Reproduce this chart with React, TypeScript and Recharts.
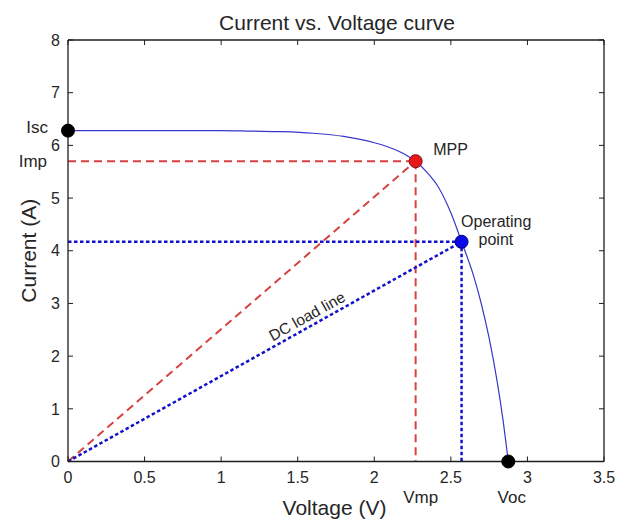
// I-V curve of a solar cell with MPP and operating point

import { ComposedChart, Line, XAxis, YAxis, ReferenceLine, ReferenceDot } from 'recharts';

const voltage = [0, 0.5, 1.0, 1.2, 1.4, 1.6, 1.8, 2.0, 2.1, 2.2, 2.27, 2.35, 2.42, 2.5, 2.57, 2.65, 2.7, 2.75, 2.8, 2.84, 2.875];
const current = [6.28, 6.28, 6.28, 6.27, 6.26, 6.23, 6.17, 6.05, 5.96, 5.83, 5.70, 5.47, 5.20, 4.72, 4.17, 3.51, 2.98, 2.34, 1.56, 0.80, 0];

const xTicks = [0, 0.5, 1, 1.5, 2, 2.5, 3, 3.5];
const yTicks = [0, 1, 2, 3, 4, 5, 6, 7, 8];

// key points
const isc = 6.28;
const voc = 2.875;
const vmp = 2.27;
const imp = 5.70;
const vop = 2.57;
const iop = 4.17;

const FONT = '"Liberation Sans", Arial, Helvetica, sans-serif';
const AXIS = '#1e1e1e';
const TEXT = '#262626';
const RED = '#d6423f';
const BLUE = '#1212cc';

const curveData = voltage.map((v, idx) => ({ v, i: current[idx] }));

const BottomTick = ({ x, y, payload }: any) => (
  <g>
    <line x1={x} y1={y} x2={x} y2={y - 5} stroke={AXIS} />
    <text x={x} y={y + 21.5} textAnchor="middle" fontSize={16} fill={TEXT} fontFamily={FONT}>
      {String(payload.value)}
    </text>
  </g>
);

const TopTick = ({ x, y }: any) => <line x1={x} y1={y} x2={x} y2={y + 5} stroke={AXIS} />;

const LeftTick = ({ x, y, payload }: any) => (
  <g>
    <line x1={x} y1={y} x2={x + 5} y2={y} stroke={AXIS} />
    <text x={x - 8} y={y + 5.7} textAnchor="end" fontSize={16} fill={TEXT} fontFamily={FONT}>
      {String(payload.value)}
    </text>
  </g>
);

const RightTick = ({ x, y }: any) => <line x1={x} y1={y} x2={x - 5} y2={y} stroke={AXIS} />;

// label drawn relative to the centre of a reference dot
const textAt = (text: string, dx: number, dy: number, anchor: string, size = 16) => (props: any) => {
  const vb = props.viewBox;
  const cx = vb.x + vb.width / 2;
  const cy = vb.y + vb.height / 2;
  return (
    <text x={cx + dx} y={cy + dy} textAnchor={anchor} fontSize={size} fill={TEXT} fontFamily={FONT}>
      {text}
    </text>
  );
};

const operatingLabel = (props: any) => {
  const vb = props.viewBox;
  const cx = vb.x + vb.width / 2;
  const cy = vb.y + vb.height / 2;
  return (
    <g fontSize={16} fill={TEXT} fontFamily={FONT}>
      <text x={cx - 0.5} y={cy - 14.5}>Operating</text>
      <text x={cx + 17} y={cy + 3.5}>point</text>
    </g>
  );
};

const loadLineLabel = (props: any) => {
  const vb = props.viewBox;
  const t = 0.62;
  const px = vb.x + vb.width * t;
  const py = vb.y + vb.height * (1 - t);
  const angle = (-Math.atan2(vb.height, vb.width) * 180) / Math.PI;
  return (
    <text
      transform={`translate(${px},${py}) rotate(${angle})`}
      x={0}
      y={-5}
      textAnchor="middle"
      fontSize={15.5}
      fill={TEXT}
      fontFamily={FONT}
    >
      DC load line
    </text>
  );
};

const xLabel = (props: any) => {
  const vb = props.viewBox;
  return (
    <text x={vb.x + vb.width / 2 - 1.5} y={515} textAnchor="middle" fontSize={21} fill={TEXT} fontFamily={FONT}>
      Voltage (V)
    </text>
  );
};

const yLabel = (props: any) => {
  const vb = props.viewBox;
  const cy = vb.y + vb.height / 2;
  return (
    <text
      transform={`translate(36,${cy}) rotate(-90)`}
      textAnchor="middle"
      fontSize={21}
      fill={TEXT}
      fontFamily={FONT}
    >
      Current (A)
    </text>
  );
};

export default function App() {
  return (
    <div style={{ position: 'absolute', left: 0, top: 0, width: 618, height: 520, background: '#fff' }}>
      <div
        style={{
          position: 'absolute',
          left: 187,
          top: 12,
          width: 300,
          textAlign: 'center',
          fontFamily: FONT,
          fontSize: 21,
          lineHeight: '21px',
          color: TEXT,
        }}
      >
        Current vs. Voltage curve
      </div>
      <ComposedChart width={618} height={520} margin={{ top: 39, right: 13, bottom: 57.5, left: 67 }}>
        <XAxis
          dataKey="v"
          type="number"
          domain={[0, 3.5]}
          ticks={xTicks}
          interval={0}
          height={1}
          tickSize={0}
          tickMargin={0}
          tickLine={false}
          tick={BottomTick}
          axisLine={{ stroke: AXIS, strokeWidth: 1.3 }}
          label={xLabel}
          allowDataOverflow
        />
        <XAxis
          xAxisId="top"
          orientation="top"
          dataKey="v"
          type="number"
          domain={[0, 3.5]}
          ticks={xTicks}
          interval={0}
          height={1}
          tickSize={0}
          tickMargin={0}
          tickLine={false}
          tick={TopTick}
          axisLine={{ stroke: AXIS, strokeWidth: 1.3 }}
          allowDataOverflow
        />
        <YAxis
          type="number"
          domain={[0, 8]}
          ticks={yTicks}
          interval={0}
          width={1}
          tickSize={0}
          tickMargin={0}
          tickLine={false}
          tick={LeftTick}
          axisLine={{ stroke: AXIS, strokeWidth: 1.3 }}
          label={yLabel}
          allowDataOverflow
        />
        <YAxis
          yAxisId="right"
          orientation="right"
          type="number"
          domain={[0, 8]}
          ticks={yTicks}
          interval={0}
          width={1}
          tickSize={0}
          tickMargin={0}
          tickLine={false}
          tick={RightTick}
          axisLine={{ stroke: AXIS, strokeWidth: 1.3 }}
          allowDataOverflow
        />

        {/* maximum power point guides */}
        <ReferenceLine segment={[{ x: 0, y: imp }, { x: vmp, y: imp }]} stroke={RED} strokeWidth={2} strokeDasharray="8 5" />
        <ReferenceLine segment={[{ x: vmp, y: imp }, { x: vmp, y: 0 }]} stroke={RED} strokeWidth={2} strokeDasharray="8 5" />
        <ReferenceLine segment={[{ x: 0, y: 0 }, { x: vmp, y: imp }]} stroke={RED} strokeWidth={2} strokeDasharray="8 5" />

        {/* operating point guides and DC load line */}
        <ReferenceLine segment={[{ x: 0, y: iop }, { x: vop, y: iop }]} stroke={BLUE} strokeWidth={2.5} strokeDasharray="3.5 2.5" />
        <ReferenceLine segment={[{ x: vop, y: iop }, { x: vop, y: 0 }]} stroke={BLUE} strokeWidth={2.5} strokeDasharray="3.5 2.5" />
        <ReferenceLine
          segment={[{ x: 0, y: 0 }, { x: vop, y: iop }]}
          stroke={BLUE}
          strokeWidth={2.5}
          strokeDasharray="3.5 2.5"
          label={loadLineLabel}
        />

        <Line
          data={curveData}
          dataKey="i"
          type="monotone"
          stroke="#3838c8"
          strokeWidth={1.2}
          dot={false}
          activeDot={false}
          isAnimationActive={false}
        />

        <ReferenceDot x={0} y={isc} r={6.5} fill="#000" stroke="#000" label={textAt('Isc', -20, 2, 'end', 17)} />
        <ReferenceDot x={0} y={imp} r={0} fill="none" stroke="none" label={textAt('Imp', -21, 6, 'end', 17)} />
        <ReferenceDot x={voc} y={0} r={6.5} fill="#000" stroke="#000" label={textAt('Voc', 3.5, 41.5, 'middle', 17)} />
        <ReferenceDot x={vmp} y={0} r={0} fill="none" stroke="none" label={textAt('Vmp', 5, 41.5, 'middle', 17)} />
        <ReferenceDot x={vmp} y={imp} r={6.5} fill="#e81818" stroke="#7a1010" strokeWidth={1} label={textAt('MPP', 17.5, -6, 'start', 16)} />
        <ReferenceDot x={vop} y={iop} r={6.5} fill="#0a0ae8" stroke="#00007a" strokeWidth={1} label={operatingLabel} />
      </ComposedChart>
    </div>
  );
}
